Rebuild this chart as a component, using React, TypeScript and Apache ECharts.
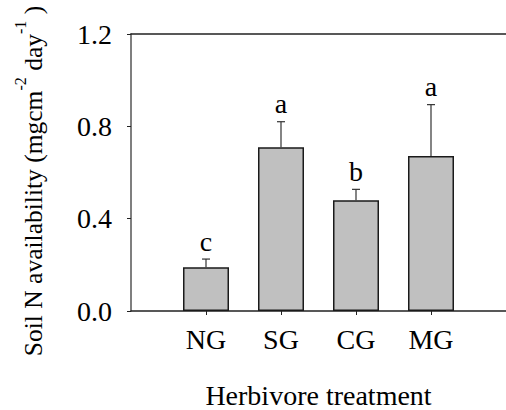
import React, { useEffect, useRef } from "react";
import * as echarts from "echarts";

const categories = ["NG", "SG", "CG", "MG"];
const means = [0.189, 0.709, 0.48, 0.672];
const errors = [0.036, 0.111, 0.047, 0.222];
const letters = ["c", "a", "b", "a"];
const positions = [1, 2, 3, 4];
const yTitleParts = [
  { text: "Soil N availability (mgcm", sup: false },
  { text: "-2", sup: true },
  { text: " day", sup: false },
  { text: "-1", sup: true },
  { text: " )", sup: false },
];

const FONT = "Liberation Serif";
const TITLE_FONT = "'Times New Roman', 'Liberation Serif', serif";
const FS = 28;
const TITLE_FS = 25.5;
const SUP_FS = 16;

function measure(text: string, size: number): number {
  const c = document.createElement("canvas").getContext("2d");
  if (!c) return text.length * size * 0.5;
  c.font = `${size}px ${TITLE_FONT}`;
  return c.measureText(text).width;
}

export default function App() {
  const ref = useRef<HTMLDivElement>(null);
  useEffect(() => {
    if (!ref.current) return;
    const chart = echarts.init(ref.current, undefined, { renderer: "svg" });
    const barData = positions.map((p, i) => [p, means[i]]);
    const errData = positions.map((p, i) => [p, means[i], errors[i], i]);

    const widths = yTitleParts.map((p) => measure(p.text, p.sup ? SUP_FS : TITLE_FS));
    const total = widths.reduce((a, b) => a + b, 0);
    let cursor = -total / 2;
    const titleChildren = yTitleParts.map((p, i) => {
      const el = {
        type: "text",
        x: cursor,
        y: p.sup ? -13 : 0,
        style: {
          text: p.text,
          fontFamily: TITLE_FONT,
          fontSize: p.sup ? SUP_FS : TITLE_FS,
          fill: "#000",
          align: "left",
          verticalAlign: "middle",
        },
      };
      cursor += widths[i];
      return el;
    });

    chart.setOption({
      animation: false,
      textStyle: { fontFamily: FONT },
      grid: { left: 131, top: 34, right: 0, bottom: 99, containLabel: false, outerBoundsMode: "none" },
      graphic: [
        {
          type: "group",
          x: 33,
          y: 181,
          rotation: Math.PI / 2,
          children: titleChildren,
        },
      ],
      xAxis: [
        {
          type: "value",
          min: 0,
          max: 5,
          interval: 1,
          position: "bottom",
          splitLine: { show: false },
          axisLine: { show: true, lineStyle: { color: "#222", width: 1.5 } },
          axisTick: {
            show: true,
            customValues: positions,
            length: 4,
            lineStyle: { color: "#222", width: 1 },
          },
          axisLabel: {
            customValues: positions,
            formatter: (v: number) => categories[Math.round(v) - 1] ?? "",
            fontFamily: FONT,
            fontSize: FS,
            color: "#000",
            margin: 14,
          },
          name: "Herbivore treatment",
          nameLocation: "middle",
          nameGap: 70,
          nameTextStyle: { fontFamily: FONT, fontSize: FS, color: "#000" },
        },
        {
          type: "value",
          min: 0,
          max: 5,
          position: "top",
          splitLine: { show: false },
          axisLine: { show: true, lineStyle: { color: "#222", width: 1.5 } },
          axisTick: { show: false },
          axisLabel: { show: false },
        },
      ],
      yAxis: {
        type: "value",
        min: 0,
        max: 1.2,
        interval: 0.4,
        splitLine: { show: false },
        axisLine: { show: true, lineStyle: { color: "#555", width: 1.5 } },
        axisTick: { show: true, length: 4, lineStyle: { color: "#222", width: 1 } },
        axisLabel: {
          formatter: (v: number) => v.toFixed(1),
          fontFamily: FONT,
          fontSize: FS,
          color: "#000",
          margin: 19,
        },
      },
      series: [
        {
          type: "bar",
          xAxisIndex: 0,
          data: barData,
          barWidth: 46,
          itemStyle: { color: "#c0c0c0", borderColor: "#1a1a1a", borderWidth: 1.5 },
        },
        {
          type: "custom",
          xAxisIndex: 0,
          data: errData,
          z: 3,
          renderItem: (params: any, api: any) => {
            const x = api.value(0);
            const m = api.value(1);
            const e = api.value(2);
            const idx = api.value(3);
            const base = api.coord([x, m]);
            const top = api.coord([x, m + e]);
            const cap = 4;
            return {
              type: "group",
              children: [
                {
                  type: "line",
                  shape: { x1: base[0], y1: base[1], x2: top[0], y2: top[1] },
                  style: { stroke: "#333", lineWidth: 1.2 },
                },
                {
                  type: "line",
                  shape: { x1: top[0] - cap, y1: top[1], x2: top[0] + cap, y2: top[1] },
                  style: { stroke: "#333", lineWidth: 1.2 },
                },
                {
                  type: "text",
                  style: {
                    text: letters[idx],
                    x: top[0],
                    y: top[1] - 18,
                    align: "center",
                    verticalAlign: "middle",
                    fontFamily: FONT,
                    fontSize: FS,
                    fill: "#000",
                  },
                },
              ],
            };
          },
        },
      ],
    });
    return () => chart.dispose();
  }, []);
  return (
    <div
      ref={ref}
      style={{ position: "absolute", left: 0, top: 0, width: 506, height: 410 }}
    />
  );
}
